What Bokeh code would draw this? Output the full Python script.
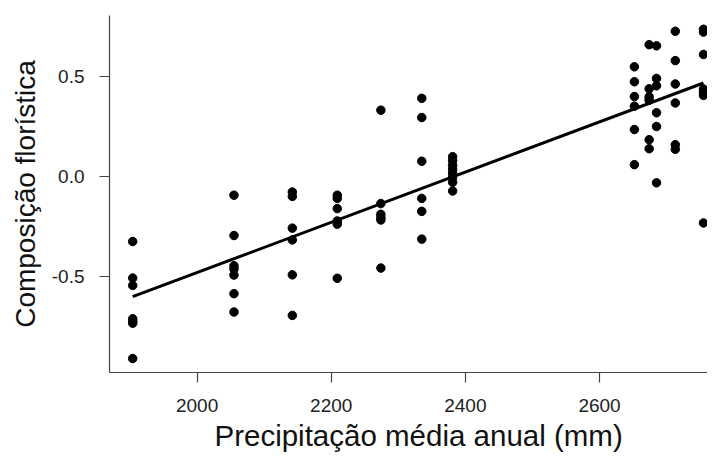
from bokeh.plotting import figure
from bokeh.models import Range1d, FixedTicker, Title
from bokeh.embed import file_html
from bokeh.resources import INLINE

# ---- data ----
precip_levels = [1904, 2055, 2142, 2209, 2274, 2335, 2381, 2652, 2674, 2685, 2713, 2755]
comp_by_level = [
    [-0.327, -0.510, -0.547, -0.714, -0.726, -0.736, -0.913],
    [-0.095, -0.297, -0.448, -0.465, -0.495, -0.588, -0.680],
    [-0.079, -0.101, -0.260, -0.319, -0.494, -0.697],
    [-0.095, -0.111, -0.162, -0.224, -0.240, -0.511],
    [0.331, -0.137, -0.191, -0.207, -0.219, -0.460],
    [0.390, 0.294, 0.075, -0.111, -0.176, -0.315],
    [0.098, 0.078, 0.055, 0.035, 0.015, -0.005, -0.030, -0.074],
    [0.548, 0.473, 0.399, 0.351, 0.234, 0.058],
    [0.659, 0.438, 0.398, 0.381, 0.183, 0.138],
    [0.653, 0.490, 0.453, 0.318, 0.249, -0.033],
    [0.726, 0.579, 0.462, 0.367, 0.158, 0.135],
    [0.736, 0.722, 0.610, 0.437, 0.420, 0.405, -0.234],
]
trend_x = [1904, 2755]
trend_y = [-0.603, 0.467]

x_ticks = [2000, 2200, 2400, 2600]
y_ticks = [-0.5, 0.0, 0.5]
y_tick_labels = ["-0.5", "0.0", "0.5"]
x_title = "Precipitação média anual (mm)"
y_title = "Composição florística"

precip = []
comp = []
for lvl, vals in zip(precip_levels, comp_by_level):
    for v in vals:
        precip.append(lvl)
        comp.append(v)

FONT = "Liberation Sans"
AX = "#444444"

p = figure(width=707, height=457, output_backend="svg", toolbar_location=None,
           x_range=Range1d(1869.4, 2761.0), y_range=Range1d(-0.983, 0.805),
           min_border_left=109, min_border_right=0, min_border_top=15, min_border_bottom=83)
p.outline_line_color = None
p.xgrid.grid_line_color = None
p.ygrid.grid_line_color = None
p.background_fill_color = "white"
p.border_fill_color = "white"

p.line(trend_x, trend_y, line_color="black", line_width=3)
p.scatter(precip, comp, size=8.5, color="black")

xa = p.xaxis[0]
xa.ticker = FixedTicker(ticks=x_ticks)
ya = p.yaxis[0]
ya.ticker = FixedTicker(ticks=y_ticks)
ya.major_label_overrides = {t: l for t, l in zip(y_ticks, y_tick_labels)}

for ax in (xa, ya):
    ax.axis_line_color = AX
    ax.axis_line_width = 1.2
    ax.major_tick_line_color = AX
    ax.major_tick_line_width = 1.2
    ax.major_tick_in = 0
    ax.major_tick_out = 10
    ax.minor_tick_line_color = None
    ax.major_label_text_font = FONT
    ax.major_label_text_font_size = "19px"
    ax.major_label_text_color = "#222222"
xa.major_label_standoff = 16
ya.major_label_standoff = 15

ya.axis_label = y_title
ya.axis_label_text_font = FONT
ya.axis_label_text_font_size = "28px"
ya.axis_label_text_font_style = "normal"
ya.axis_label_text_color = "#111111"
ya.axis_label_standoff = 8

p.add_layout(Title(text=x_title, align="left", offset=105, standoff=8,
                   vertical_align="top", text_font=FONT, text_font_size="29.5px",
                   text_font_style="normal", text_color="#111111"), "below")

open("out.html", "w").write(file_html(p, INLINE))
